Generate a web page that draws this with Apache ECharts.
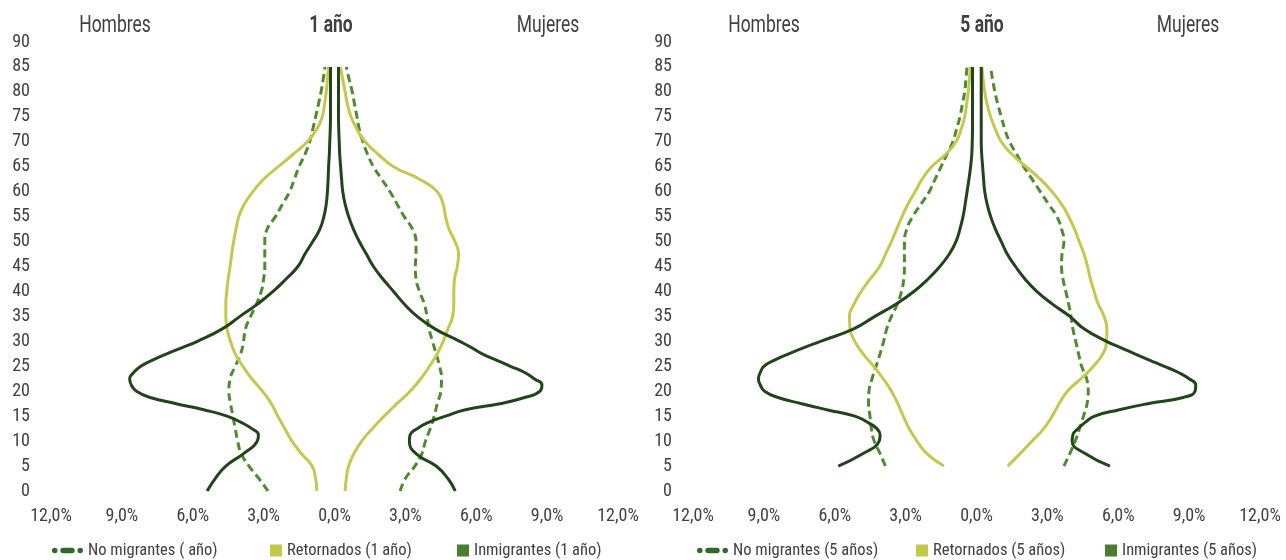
<!DOCTYPE html>
<html>
<head>
<meta charset="utf-8">
<script src="https://cdn.jsdelivr.net/npm/echarts@6/dist/echarts.min.js"></script>
<style>
html,body{margin:0;padding:0;background:#ffffff;}
#chart{width:1286px;height:560px;}
</style>
</head>
<body>
<div id="chart"></div>
<script>
// ---------- DATA ----------
// "1 año" panel. Age points (y axis)
const ages1 = [0,2.5,5,7.5,10,12.5,15,17.5,20,22.5,25,27.5,30,32.5,35,37.5,40,42.5,45,47.5,50,52.5,55,57.5,60,62.5,65,67.5,70,72.5,75,77.5,80,82.5,85];
// finer age points for the immigrant curves (they move fast between 10 and 30)
const agesInm1 = [0,2.5,5,7.5,10,11.25,12.5,13.75,15,16.25,17.5,18.75,20,21.25,22.5,23.75,25,26.25,27.5,28.75,30,32.5,35,37.5,40,42.5,45,47.5,50,52.5,55,57.5,60,62.5,65,67.5,70,72.5,75,77.5,80,82.5,85];
// Percentages (absolute); Hombres drawn to the left, Mujeres to the right
const noMigH1 = [2.82,3.2,3.62,3.95,4.1,4.2,4.3,4.4,4.47,4.42,4.2,3.97,3.85,3.77,3.55,3.3,3.1,3.0,2.95,2.95,2.95,2.85,2.5,2.2,1.9,1.7,1.5,1.25,1.05,0.92,0.8,0.68,0.57,0.48,0.4];
const noMigM1 = [2.78,3.0,3.4,3.7,3.85,4.05,4.22,4.35,4.5,4.53,4.45,4.3,4.15,4.0,3.92,3.8,3.6,3.45,3.42,3.45,3.45,3.3,2.95,2.65,2.35,2.0,1.65,1.4,1.2,1.05,0.95,0.85,0.75,0.62,0.5];
const retH1 = [0.75,0.8,0.95,1.4,1.8,2.1,2.4,2.67,3.05,3.5,3.88,4.2,4.4,4.55,4.6,4.6,4.56,4.5,4.42,4.35,4.27,4.17,4.05,3.82,3.45,3.0,2.38,1.75,1.15,0.75,0.52,0.42,0.35,0.3,0.25];
const retM1 = [0.45,0.5,0.6,0.82,1.15,1.6,2.1,2.64,3.2,3.65,4.02,4.35,4.6,4.8,5.0,5.05,5.05,5.08,5.2,5.25,5.1,4.85,4.7,4.6,4.35,3.6,2.5,1.85,1.3,0.95,0.7,0.55,0.45,0.35,0.25];
const inmH1 = [5.39,5.05,4.6,3.85,3.27,3.22,3.5,3.95,4.55,5.5,6.7,7.8,8.38,8.6,8.67,8.5,8.2,7.7,7.1,6.45,5.8,4.75,4.0,3.25,2.6,2.05,1.55,1.25,0.92,0.62,0.45,0.35,0.3,0.27,0.25,0.22,0.2,0.18,0.17,0.17,0.17,0.17,0.17];
const inmM1 = [5.11,4.8,4.3,3.45,3.17,3.2,3.5,3.98,4.7,5.5,7.0,8.05,8.7,8.78,8.45,8.05,7.45,6.85,6.25,5.8,5.3,4.25,3.5,2.95,2.5,2.05,1.65,1.35,1.05,0.8,0.6,0.45,0.35,0.3,0.26,0.22,0.2,0.18,0.17,0.17,0.17,0.17,0.17];

// "5 año" panel
const ages5 = [5,7.5,10,12.5,15,17.5,20,22.5,25,27.5,30,32.5,35,37.5,40,42.5,45,47.5,50,52.5,55,57.5,60,62.5,65,67.5,70,72.5,75,77.5,80,82.5,85];
const agesInm5 = [5,7.5,10,11.25,12.5,13.75,15,16.25,17.5,18.75,20,21.25,22.5,23.75,25,26.25,27.5,28.75,30,32.5,35,37.5,40,42.5,45,47.5,50,52.5,55,57.5,60,62.5,65,67.5,70,72.5,75,77.5,80,82.5,85];
const noMigH5 = [3.86,4.08,4.33,4.45,4.51,4.57,4.55,4.42,4.25,4.08,3.93,3.8,3.6,3.35,3.17,3.08,3.05,3.05,3.05,2.95,2.7,2.35,2.0,1.75,1.5,1.25,1.0,0.85,0.7,0.6,0.5,0.45,0.4];
const noMigM5 = [3.7,3.95,4.18,4.36,4.53,4.68,4.73,4.66,4.45,4.32,4.2,4.08,4.0,3.9,3.78,3.66,3.6,3.62,3.7,3.6,3.4,3.05,2.7,2.35,2.0,1.7,1.4,1.2,1.05,0.9,0.78,0.68,0.6];
const retH5 = [1.38,2.1,2.52,2.85,3.1,3.33,3.6,3.95,4.35,4.8,5.15,5.35,5.38,5.18,4.88,4.5,4.1,3.85,3.6,3.38,3.15,2.9,2.6,2.3,1.9,1.3,0.87,0.65,0.5,0.42,0.35,0.3,0.26];
const retM5 = [1.32,1.85,2.35,2.85,3.2,3.5,3.85,4.42,4.95,5.35,5.5,5.52,5.4,5.15,4.98,4.82,4.7,4.55,4.35,4.15,3.9,3.6,3.2,2.7,2.1,1.5,1.05,0.8,0.6,0.45,0.35,0.28,0.23];
const inmH5 = [5.85,4.8,4.12,4.08,4.22,4.6,5.15,6.3,7.4,8.4,8.97,9.15,9.23,9.15,9.0,8.55,7.95,7.3,6.6,5.2,4.3,3.4,2.65,2.05,1.55,1.15,0.87,0.7,0.57,0.48,0.4,0.32,0.25,0.2,0.18,0.17,0.17,0.17,0.17,0.17,0.17];
const inmM5 = [5.65,4.6,4.05,4.08,4.3,4.6,5.0,6.0,7.25,8.75,9.25,9.28,9.0,8.55,7.95,7.32,6.7,6.1,5.5,4.55,3.95,3.2,2.55,2.05,1.65,1.3,1.05,0.8,0.6,0.45,0.35,0.3,0.26,0.22,0.2,0.2,0.2,0.2,0.2,0.2,0.2];

// Axis ticks
const xMin = -12, xMax = 12, xStep = 3;
const yMin = 0, yMax = 90, yStep = 5;

// Text
const panels = [
  {men:'Hombres', title:'1 año', women:'Mujeres',
   names:['No migrantes ( año)','Retornados (1 año)','Inmigrantes (1 año)']},
  {men:'Hombres', title:'5 año', women:'Mujeres',
   names:['No migrantes (5 años)','Retornados (5 años)','Inmigrantes (5 años)']}
];

// ---------- STYLE ----------
const FONT = '"Roboto Condensed","Liberation Sans Narrow",Roboto,sans-serif';
const TFONT = 'Roboto,sans-serif';
const TXT = '#404040';
const C_NM = '#4e8c2e', C_RET = '#c5c84c', C_INM = '#1f4519';
const L_NM = '#2f6a28', L_RET = '#c3c84a', L_INM = '#4a7e2f';
const dashIcon = 'path://M2.5,0a2.5,2.5 0 1,1 0,5a2.5,2.5 0 1,1 0,-5z M10,0h8a2.5,2.5 0 0,1 0,5h-8a2.5,2.5 0 0,1 0,-5z M25.5,0a2.5,2.5 0 1,1 0,5a2.5,2.5 0 1,1 0,-5z';
const sqIcon = 'path://M0,0h10v10h-10z';

const grids = [
  {left:51, width:567, top:42, height:449},
  {left:693, width:567, top:42, height:449}
];

function toPts(ages, vals, sign){ return ages.map((a,i)=>[sign*vals[i], a]); }

const dataSets = [
  {ages:ages1, agesI:agesInm1, nmH:noMigH1, nmM:noMigM1, rH:retH1, rM:retM1, iH:inmH1, iM:inmM1},
  {ages:ages5, agesI:agesInm5, nmH:noMigH5, nmM:noMigM5, rH:retH5, rM:retM5, iH:inmH5, iM:inmM5}
];

const series = [];
dataSets.forEach((d, p) => {
  const n = panels[p].names;
  const base = {type:'line', xAxisIndex:p, yAxisIndex:p, symbol:'none', smooth:0.5, silent:true, animation:false};
  const nmStyle = {color:C_NM, width:3, type:[8,4.5]};
  const rStyle = {color:C_RET, width:3};
  const iStyle = {color:C_INM, width:3};
  series.push(Object.assign({}, base, {name:n[0], data:toPts(d.ages,d.nmH,-1), lineStyle:nmStyle, itemStyle:{color:C_NM}, z:2}));
  series.push(Object.assign({}, base, {name:n[0], data:toPts(d.ages,d.nmM,1), lineStyle:nmStyle, itemStyle:{color:C_NM}, z:2}));
  series.push(Object.assign({}, base, {name:n[1], data:toPts(d.ages,d.rH,-1), lineStyle:rStyle, itemStyle:{color:C_RET}, z:3}));
  series.push(Object.assign({}, base, {name:n[1], data:toPts(d.ages,d.rM,1), lineStyle:rStyle, itemStyle:{color:C_RET}, z:3}));
  series.push(Object.assign({}, base, {name:n[2], data:toPts(d.agesI,d.iH,-1), lineStyle:iStyle, itemStyle:{color:C_INM}, z:4}));
  series.push(Object.assign({}, base, {name:n[2], data:toPts(d.agesI,d.iM,1), lineStyle:iStyle, itemStyle:{color:C_INM}, z:4}));
});

const xAxes = grids.map((g,i)=>({
  type:'value', gridIndex:i, min:xMin, max:xMax, interval:xStep,
  axisLine:{show:false}, axisTick:{show:false}, splitLine:{show:false},
  axisLabel:{margin:16, color:TXT, fontFamily:FONT, fontSize:18,
    formatter:v=>Math.abs(v).toFixed(1).replace('.', ',') + '%'}
}));
const yAxes = grids.map((g,i)=>({
  type:'value', gridIndex:i, min:yMin, max:yMax, interval:yStep,
  axisLine:{show:false}, axisTick:{show:false}, splitLine:{show:false},
  axisLabel:{margin:21, color:TXT, fontFamily:FONT, fontSize:18}
}));

// One legend per entry, so each icon sits where the reference puts it
const legendLeft = [[47,265,452],[692,911,1100]];
const legendIcons = [
  {icon:dashIcon, w:31, color:L_NM},
  {icon:sqIcon, w:12, color:L_RET},
  {icon:sqIcon, w:12, color:L_INM}
];
const legends = [];
panels.forEach((pn,i)=>{
  legendIcons.forEach((li,j)=>{
    legends.push({
      left:legendLeft[i][j], top:537, orient:'horizontal',
      itemWidth:li.w, itemHeight:12, selectedMode:false,
      textStyle:{color:TXT, fontFamily:FONT, fontSize:16.5},
      data:[{name:pn.names[j], icon:li.icon, itemStyle:{color:li.color}}]
    });
  });
});

const headX = [[115,331,548],[764,982,1188]];
const graphics = [];
panels.forEach((pn,i)=>{
  [pn.men, pn.title, pn.women].forEach((t,j)=>{
    graphics.push({type:'text', x:headX[i][j], y:26, scaleX:0.76, silent:true,
      style:{text:t, fill:TXT, align:'center', verticalAlign:'middle',
        font:(j===1?'bold ':'') + '23px ' + TFONT}});
  });
});

const chart = echarts.init(document.getElementById('chart'), null, {renderer:'canvas'});
chart.setOption({
  animation:false,
  backgroundColor:'#ffffff',
  grid:grids,
  xAxis:xAxes,
  yAxis:yAxes,
  legend:legends,
  graphic:graphics,
  series:series
});
</script>
</body>
</html>
